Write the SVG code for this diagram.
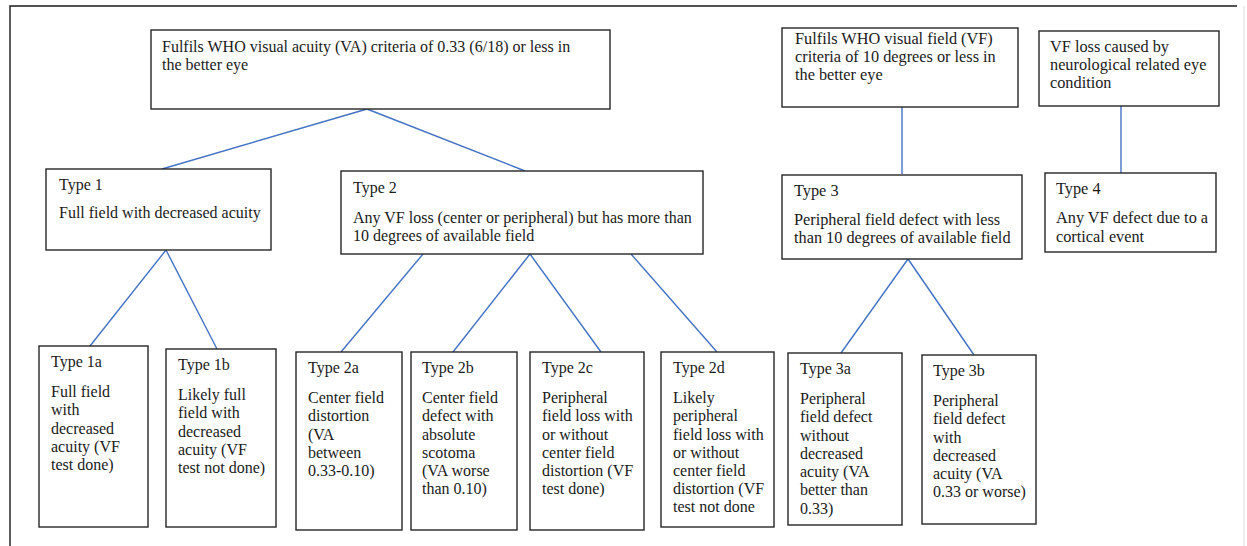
<svg xmlns="http://www.w3.org/2000/svg" width="1247" height="546" viewBox="0 0 1247 546">
<style>
.box{fill:#fff;stroke:#262626;stroke-width:1.4}
.t{font-family:"Liberation Serif","Times New Roman",serif;font-size:16px;fill:#1a1a1a}
.w{font-size:16.3px}
.c{stroke:#4472C4;stroke-width:1.4;fill:none}
</style>
<rect width="1247" height="546" fill="#fff"/>
<g id="frame">
<path d="M10,546 V6 H1237" fill="none" stroke="#1a1a1a" stroke-width="1.4"/>
<line x1="1244" y1="6" x2="1244" y2="546" stroke="#ddd" stroke-width="1"/>
</g>
<g id="connectors">
<line class="c" x1="367" y1="109" x2="162" y2="169"/>
<line class="c" x1="367" y1="109" x2="525" y2="171"/>
<line class="c" x1="902" y1="107" x2="902" y2="174"/>
<line class="c" x1="1121" y1="106" x2="1121" y2="173"/>
<line class="c" x1="166" y1="250" x2="90" y2="346"/>
<line class="c" x1="166" y1="250" x2="217" y2="349"/>
<line class="c" x1="423" y1="254" x2="341" y2="352"/>
<line class="c" x1="530" y1="254" x2="453" y2="352"/>
<line class="c" x1="530" y1="254" x2="601" y2="352"/>
<line class="c" x1="631" y1="254" x2="717" y2="352"/>
<line class="c" x1="908" y1="259" x2="841" y2="353"/>
<line class="c" x1="908" y1="259" x2="974" y2="355"/>
</g>
<g id="va">
<rect class="box" x="151" y="30" width="459" height="79"/>
<text class="t" x="162" y="52">Fulfils WHO visual acuity (VA) criteria of 0.33 (6/18) or less in</text>
<text class="t" x="162" y="70">the better eye</text>
</g>
<g id="vf">
<rect class="box" x="782" y="28" width="236" height="79"/>
<text class="t w" x="795" y="44">Fulfils WHO visual field (VF)</text>
<text class="t w" x="795" y="62">criteria of 10 degrees or less in</text>
<text class="t w" x="795" y="80">the better eye</text>
</g>
<g id="neuro">
<rect class="box" x="1039" y="31" width="180" height="75"/>
<text class="t w" x="1050" y="52">VF loss caused by</text>
<text class="t w" x="1050" y="70">neurological related eye</text>
<text class="t w" x="1050" y="88">condition</text>
</g>
<g id="type1">
<rect class="box" x="46" y="169" width="225" height="81"/>
<text class="t" x="59" y="190">Type 1</text>
<text class="t" x="59" y="218">Full field with decreased acuity</text>
</g>
<g id="type2">
<rect class="box" x="341" y="171" width="362" height="83"/>
<text class="t" x="353" y="193">Type 2</text>
<text class="t" x="353" y="223">Any VF loss (center or peripheral) but has more than</text>
<text class="t" x="353" y="241">10 degrees of available field</text>
</g>
<g id="type3">
<rect class="box" x="782" y="175" width="240" height="84"/>
<text class="t w" x="794" y="196">Type 3</text>
<text class="t w" x="794" y="225">Peripheral field defect with less</text>
<text class="t w" x="794" y="243">than 10 degrees of available field</text>
</g>
<g id="type4">
<rect class="box" x="1045" y="173" width="171" height="79"/>
<text class="t w" x="1056" y="194">Type 4</text>
<text class="t w" x="1056" y="223">Any VF defect due to a</text>
<text class="t w" x="1056" y="242">cortical event</text>
</g>
<g id="type1a">
<rect class="box" x="39" y="346" width="109" height="181"/>
<text class="t" x="51" y="367">Type 1a</text>
<text class="t" x="51" y="397">Full field</text>
<text class="t" x="51" y="415">with</text>
<text class="t" x="51" y="434">decreased</text>
<text class="t" x="51" y="452">acuity (VF</text>
<text class="t" x="51" y="470">test done)</text>
</g>
<g id="type1b">
<rect class="box" x="166" y="349" width="110" height="178"/>
<text class="t" x="178" y="370">Type 1b</text>
<text class="t" x="178" y="400">Likely full</text>
<text class="t" x="178" y="418">field with</text>
<text class="t" x="178" y="437">decreased</text>
<text class="t" x="178" y="455">acuity (VF</text>
<text class="t" x="178" y="473">test not done)</text>
</g>
<g id="type2a">
<rect class="box" x="296" y="352" width="106" height="178"/>
<text class="t" x="308" y="373">Type 2a</text>
<text class="t" x="308" y="403">Center field</text>
<text class="t" x="308" y="421">distortion</text>
<text class="t" x="308" y="440">(VA</text>
<text class="t" x="308" y="458">between</text>
<text class="t" x="308" y="476">0.33-0.10)</text>
</g>
<g id="type2b">
<rect class="box" x="411" y="352" width="106" height="178"/>
<text class="t" x="422" y="373">Type 2b</text>
<text class="t" x="422" y="403">Center field</text>
<text class="t" x="422" y="421">defect with</text>
<text class="t" x="422" y="440">absolute</text>
<text class="t" x="422" y="458">scotoma</text>
<text class="t" x="422" y="476">(VA worse</text>
<text class="t" x="422" y="494">than 0.10)</text>
</g>
<g id="type2c">
<rect class="box" x="530" y="352" width="114" height="178"/>
<text class="t" x="542" y="373">Type 2c</text>
<text class="t" x="542" y="403">Peripheral</text>
<text class="t" x="542" y="421">field loss with</text>
<text class="t" x="542" y="440">or without</text>
<text class="t" x="542" y="458">center field</text>
<text class="t" x="542" y="476">distortion (VF</text>
<text class="t" x="542" y="494">test done)</text>
</g>
<g id="type2d">
<rect class="box" x="661" y="352" width="113" height="175"/>
<text class="t" x="673" y="373">Type 2d</text>
<text class="t" x="673" y="403">Likely</text>
<text class="t" x="673" y="421">peripheral</text>
<text class="t" x="673" y="440">field loss with</text>
<text class="t" x="673" y="458">or without</text>
<text class="t" x="673" y="476">center field</text>
<text class="t" x="673" y="494">distortion (VF</text>
<text class="t" x="673" y="512">test not done</text>
</g>
<g id="type3a">
<rect class="box" x="788" y="353" width="114" height="172"/>
<text class="t" x="800" y="374">Type 3a</text>
<text class="t" x="800" y="404">Peripheral</text>
<text class="t" x="800" y="422">field defect</text>
<text class="t" x="800" y="441">without</text>
<text class="t" x="800" y="459">decreased</text>
<text class="t" x="800" y="477">acuity (VA</text>
<text class="t" x="800" y="495">better than</text>
<text class="t" x="800" y="514">0.33)</text>
</g>
<g id="type3b">
<rect class="box" x="922" y="355" width="114" height="169"/>
<text class="t" x="933" y="376">Type 3b</text>
<text class="t" x="933" y="406">Peripheral</text>
<text class="t" x="933" y="424">field defect</text>
<text class="t" x="933" y="443">with</text>
<text class="t" x="933" y="461">decreased</text>
<text class="t" x="933" y="479">acuity (VA</text>
<text class="t" x="933" y="497">0.33 or worse)</text>
</g>
</svg>
